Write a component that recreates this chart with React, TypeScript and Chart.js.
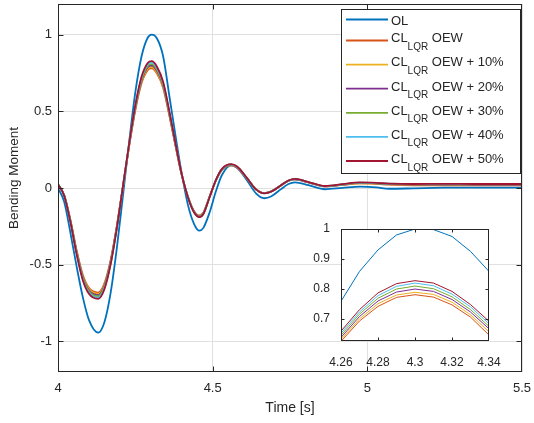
import React, { useEffect, useRef } from "react";
import { Chart, registerables } from "chart.js";

Chart.register(...registerables);

const FONT = '"Liberation Sans", Arial, Helvetica, sans-serif';
const AX = "#262626";
const GRID = "#e0e0e0";

// ---------- main plot data ----------
const TIME = [4.00, 4.02, 4.04, 4.06, 4.08, 4.10, 4.13, 4.15, 4.17, 4.19, 4.21, 4.23, 4.25, 4.27, 4.29, 4.303, 4.32, 4.34, 4.36, 4.38, 4.40, 4.42, 4.44, 4.457, 4.47, 4.49, 4.51, 4.53, 4.56, 4.58, 4.61, 4.64, 4.667, 4.69, 4.72, 4.745, 4.766, 4.81, 4.863, 4.92, 4.976, 5.03, 5.07, 5.15, 5.25, 5.35, 5.5];

const OL = [0.000, -0.09, -0.29, -0.51, -0.71, -0.86, -0.943, -0.875, -0.685, -0.395, -0.05, 0.30, 0.625, 0.858, 0.98, 1.0, 0.975, 0.858, 0.60, 0.34, 0.095, -0.11, -0.235, -0.278, -0.26, -0.16, -0.025, 0.085, 0.148, 0.130, 0.052, -0.035, -0.067, -0.054, -0.009, 0.026, 0.037, 0.018, -0.008, 0.001, 0.009, 0.004, -0.005, -0.002, 0.002, 0.003, 0.003];

const CL_OEW = [0.024, -0.047, -0.207, -0.405, -0.566, -0.651, -0.682, -0.622, -0.472, -0.250, 0.009, 0.273, 0.509, 0.684, 0.769, 0.780, 0.746, 0.652, 0.472, 0.273, 0.085, -0.057, -0.151, -0.179, -0.160, -0.057, 0.047, 0.118, 0.147, 0.131, 0.064, -0.008, -0.033, -0.022, 0.016, 0.046, 0.056, 0.036, 0.010, 0.020, 0.030, 0.027, 0.022, 0.018, 0.018, 0.017, 0.017];

const CL_OEW10 = [0.024, -0.048, -0.210, -0.410, -0.572, -0.658, -0.690, -0.630, -0.477, -0.253, 0.010, 0.277, 0.515, 0.692, 0.778, 0.789, 0.755, 0.659, 0.477, 0.277, 0.086, -0.057, -0.153, -0.181, -0.162, -0.057, 0.048, 0.119, 0.149, 0.133, 0.065, -0.008, -0.033, -0.022, 0.016, 0.047, 0.056, 0.037, 0.011, 0.021, 0.031, 0.029, 0.024, 0.020, 0.020, 0.019, 0.019];

const CL_OEW20 = [0.024, -0.048, -0.213, -0.415, -0.580, -0.667, -0.698, -0.638, -0.483, -0.256, 0.010, 0.280, 0.522, 0.700, 0.787, 0.799, 0.764, 0.668, 0.483, 0.280, 0.087, -0.058, -0.155, -0.184, -0.164, -0.058, 0.048, 0.121, 0.151, 0.134, 0.066, -0.009, -0.034, -0.022, 0.016, 0.047, 0.057, 0.037, 0.011, 0.022, 0.033, 0.030, 0.025, 0.022, 0.022, 0.021, 0.021];

const CL_OEW30 = [0.025, -0.049, -0.215, -0.420, -0.586, -0.674, -0.706, -0.645, -0.489, -0.259, 0.010, 0.283, 0.528, 0.708, 0.796, 0.808, 0.773, 0.675, 0.489, 0.283, 0.088, -0.059, -0.156, -0.186, -0.166, -0.059, 0.049, 0.122, 0.152, 0.136, 0.066, -0.009, -0.034, -0.022, 0.017, 0.048, 0.058, 0.038, 0.012, 0.023, 0.034, 0.031, 0.027, 0.024, 0.024, 0.023, 0.023];

const CL_OEW40 = [0.025, -0.049, -0.218, -0.425, -0.593, -0.682, -0.715, -0.653, -0.495, -0.262, 0.010, 0.287, 0.534, 0.717, 0.806, 0.818, 0.782, 0.683, 0.495, 0.287, 0.089, -0.059, -0.158, -0.188, -0.168, -0.059, 0.049, 0.124, 0.154, 0.137, 0.067, -0.009, -0.035, -0.023, 0.017, 0.048, 0.058, 0.038, 0.012, 0.024, 0.035, 0.032, 0.028, 0.025, 0.026, 0.025, 0.025];

const CL_OEW50 = [0.025, -0.05, -0.22, -0.43, -0.60, -0.69, -0.723, -0.66, -0.50, -0.265, 0.01, 0.29, 0.54, 0.725, 0.815, 0.827, 0.791, 0.691, 0.50, 0.29, 0.09, -0.06, -0.16, -0.19, -0.17, -0.06, 0.05, 0.125, 0.156, 0.139, 0.068, -0.009, -0.035, -0.023, 0.017, 0.049, 0.059, 0.039, 0.013, 0.025, 0.037, 0.034, 0.029, 0.026, 0.027, 0.026, 0.026];

// ---------- inset (zoom) data ----------
const INSET_TIME = [4.26, 4.27, 4.28, 4.29, 4.30, 4.31, 4.32, 4.33, 4.34];
const INSET_OL = [0.758, 0.858, 0.930, 0.980, 1.000, 0.998, 0.975, 0.925, 0.858];
const INSET_OEW = [0.624, 0.692, 0.741, 0.771, 0.780, 0.772, 0.746, 0.705, 0.645];
const INSET_OEW10 = [0.630, 0.699, 0.750, 0.779, 0.788, 0.781, 0.755, 0.713, 0.656];
const INSET_OEW20 = [0.637, 0.707, 0.759, 0.789, 0.799, 0.791, 0.764, 0.722, 0.666];
const INSET_OEW30 = [0.644, 0.715, 0.768, 0.799, 0.809, 0.800, 0.773, 0.730, 0.674];
const INSET_OEW40 = [0.651, 0.722, 0.777, 0.808, 0.819, 0.810, 0.782, 0.739, 0.683];
const INSET_OEW50 = [0.658, 0.730, 0.786, 0.817, 0.827, 0.819, 0.791, 0.747, 0.691];

// ---------- labels / ticks ----------
const SERIES_COLORS = ["#0072BD", "#D95319", "#EDB120", "#7E2F8E", "#77AC30", "#4DBEEE", "#A2142F"];
const LEGEND_MAIN = ["OL", "CL", "CL", "CL", "CL", "CL", "CL"];
const LEGEND_SUB = ["", "LQR", "LQR", "LQR", "LQR", "LQR", "LQR"];
const LEGEND_TAIL = ["", " OEW", " OEW + 10%", " OEW + 20%", " OEW + 30%", " OEW + 40%", " OEW + 50%"];

const X_TICKS = [4, 4.5, 5, 5.5];
const Y_TICKS = [-1, -0.5, 0, 0.5, 1];
const INSET_X_TICKS = [4.26, 4.28, 4.3, 4.32, 4.34];
const INSET_Y_TICKS = [0.7, 0.8, 0.9, 1];

const X_TITLE = "Time [s]";
const Y_TITLE = "Bending Moment";

const MAIN_SERIES = [OL, CL_OEW, CL_OEW10, CL_OEW20, CL_OEW30, CL_OEW40, CL_OEW50];
const INSET_SERIES = [INSET_OL, INSET_OEW, INSET_OEW10, INSET_OEW20, INSET_OEW30, INSET_OEW40, INSET_OEW50];

function boxPlugin(id: string, tickLen: number, xTicks: number[], yTicks: number[], whiteBg: boolean) {
  return {
    id,
    beforeDraw(chart: any) {
      if (!whiteBg) return;
      const { ctx, chartArea: a } = chart;
      ctx.save();
      ctx.fillStyle = "#ffffff";
      ctx.fillRect(a.left, a.top, a.right - a.left, a.bottom - a.top);
      ctx.restore();
    },
    afterDatasetsDraw(chart: any) {
      const { ctx, chartArea: a, scales } = chart;
      const L = Math.round(a.left) + 0.5;
      const R = Math.round(a.right) - 0.5;
      const T = Math.round(a.top) + 0.5;
      const B = Math.round(a.bottom) - 0.5;
      ctx.save();
      ctx.strokeStyle = AX;
      ctx.lineWidth = 1;
      ctx.beginPath();
      xTicks.forEach((v) => {
        const p = Math.round(scales.x.getPixelForValue(v)) + 0.5;
        if (p <= L + 1 || p >= R - 1) return;
        ctx.moveTo(p, B);
        ctx.lineTo(p, B - tickLen);
        ctx.moveTo(p, T);
        ctx.lineTo(p, T + tickLen);
      });
      yTicks.forEach((v) => {
        const p = Math.round(scales.y.getPixelForValue(v)) + 0.5;
        if (p <= T + 1 || p >= B - 1) return;
        ctx.moveTo(L, p);
        ctx.lineTo(L + tickLen, p);
        ctx.moveTo(R, p);
        ctx.lineTo(R - tickLen, p);
      });
      ctx.stroke();
      ctx.strokeRect(L, T, R - L, B - T);
      ctx.restore();
    },
  };
}

const legendPlugin = {
  id: "matlabLegend",
  afterDraw(chart: any) {
    const ctx = chart.ctx;
    ctx.save();
    ctx.fillStyle = "#ffffff";
    ctx.fillRect(341, 9, 180, 165);
    ctx.strokeStyle = AX;
    ctx.lineWidth = 1;
    ctx.strokeRect(341.5, 9.5, 179, 164);
    ctx.textAlign = "left";
    ctx.textBaseline = "alphabetic";
    LEGEND_MAIN.forEach((m, i) => {
      const y = i === 0 ? 19.5 : 40.5 + (i - 1) * 24.1;
      ctx.strokeStyle = SERIES_COLORS[i];
      ctx.lineWidth = 1.8;
      ctx.beginPath();
      ctx.moveTo(346, y);
      ctx.lineTo(388, y);
      ctx.stroke();
      ctx.fillStyle = AX;
      ctx.font = `13px ${FONT}`;
      const base = i === 0 ? y + 5 : y + 1.8;
      let x = 391;
      ctx.fillText(m, x, base);
      x += ctx.measureText(m).width;
      if (LEGEND_SUB[i]) {
        ctx.font = `10px ${FONT}`;
        ctx.fillText(LEGEND_SUB[i], x, y + 9.5);
        x += ctx.measureText(LEGEND_SUB[i]).width;
        ctx.font = `13px ${FONT}`;
        ctx.fillText(LEGEND_TAIL[i], x, base);
      }
    });
    // y-axis title
    ctx.fillStyle = AX;
    ctx.font = `13.5px ${FONT}`;
    ctx.translate(14, 178);
    ctx.rotate(-Math.PI / 2);
    ctx.textAlign = "center";
    ctx.textBaseline = "middle";
    ctx.fillText(Y_TITLE, 0, 0);
    ctx.restore();
  },
};

const fmt = (v: any) => String(Math.round(Number(v) * 1000) / 1000);
const noPad = (s: any) => {
  s.paddingLeft = 0;
  s.paddingRight = 0;
  s.paddingTop = 0;
  s.paddingBottom = 0;
};

export default function App() {
  const mainRef = useRef<HTMLCanvasElement>(null);
  const insetRef = useRef<HTMLCanvasElement>(null);

  useEffect(() => {
    const mainChart = new Chart(mainRef.current as HTMLCanvasElement, {
      type: "line",
      data: {
        datasets: MAIN_SERIES.map((vals, i) => ({
          label: LEGEND_MAIN[i] + LEGEND_SUB[i] + LEGEND_TAIL[i],
          data: TIME.map((t, k) => ({ x: t, y: vals[k] })),
          borderColor: SERIES_COLORS[i],
          backgroundColor: SERIES_COLORS[i],
          borderWidth: 1.8,
          pointRadius: 0,
          cubicInterpolationMode: "monotone",
          fill: false,
          order: 6 - i,
        })),
      },
      options: {
        animation: false,
        responsive: false,
        devicePixelRatio: 1,
        layout: { padding: { left: 0, right: 12, top: 4, bottom: 0 } },
        plugins: { legend: { display: false }, tooltip: { enabled: false } },
        scales: {
          x: {
            type: "linear",
            min: 4,
            max: 5.5,
            afterBuildTicks: (s: any) => {
              s.ticks = X_TICKS.map((v) => ({ value: v }));
            },
            afterFit: (s: any) => {
              s.height = 51;
              noPad(s);
            },
            grid: { color: GRID, drawTicks: false, lineWidth: 1 },
            border: { display: false },
            ticks: {
              autoSkip: false,
              maxRotation: 0,
              padding: 9,
              color: AX,
              font: { family: FONT, size: 13 },
              callback: (v: any) => fmt(v),
            },
            title: {
              display: true,
              text: X_TITLE,
              color: AX,
              font: { family: FONT, size: 14 },
              padding: { top: 0, bottom: 6 },
            },
          },
          y: {
            type: "linear",
            min: -1.2,
            max: 1.2,
            afterBuildTicks: (s: any) => {
              s.ticks = Y_TICKS.map((v) => ({ value: v }));
            },
            afterFit: (s: any) => {
              s.width = 58;
              noPad(s);
            },
            grid: { color: GRID, drawTicks: false, lineWidth: 1 },
            border: { display: false },
            ticks: {
              autoSkip: false,
              padding: 6,
              color: AX,
              font: { family: FONT, size: 13 },
              callback: (v: any) => fmt(v),
            },
          },
        },
      },
      plugins: [boxPlugin("mainBox", 5, X_TICKS, Y_TICKS, false), legendPlugin],
    } as any);

    const insetChart = new Chart(insetRef.current as HTMLCanvasElement, {
      type: "line",
      data: {
        datasets: INSET_SERIES.map((vals, i) => ({
          label: LEGEND_MAIN[i] + LEGEND_SUB[i] + LEGEND_TAIL[i],
          data: INSET_TIME.map((t, k) => ({ x: t, y: vals[k] })),
          borderColor: SERIES_COLORS[i],
          backgroundColor: SERIES_COLORS[i],
          borderWidth: 1,
          pointRadius: 0,
          tension: 0,
          fill: false,
          order: 6 - i,
        })),
      },
      options: {
        animation: false,
        responsive: false,
        devicePixelRatio: 1,
        layout: { padding: { left: 0, right: 16, top: 7, bottom: 0 } },
        plugins: { legend: { display: false }, tooltip: { enabled: false } },
        scales: {
          x: {
            type: "linear",
            min: 4.26,
            max: 4.34,
            afterBuildTicks: (s: any) => {
              s.ticks = INSET_X_TICKS.map((v) => ({ value: v }));
            },
            afterFit: (s: any) => {
              s.height = 29;
              noPad(s);
            },
            grid: { display: false },
            border: { display: false },
            ticks: {
              autoSkip: false,
              maxRotation: 0,
              padding: 6,
              color: AX,
              font: { family: FONT, size: 12 },
              callback: (v: any) => fmt(v),
            },
          },
          y: {
            type: "linear",
            min: 0.625,
            max: 1,
            afterBuildTicks: (s: any) => {
              s.ticks = INSET_Y_TICKS.map((v) => ({ value: v }));
            },
            afterFit: (s: any) => {
              s.width = 46;
              noPad(s);
            },
            grid: { display: false },
            border: { display: false },
            ticks: {
              autoSkip: false,
              padding: 3,
              color: AX,
              font: { family: FONT, size: 12 },
              callback: (v: any) => fmt(v),
            },
          },
        },
      },
      plugins: [boxPlugin("insetBox", 3, INSET_X_TICKS, INSET_Y_TICKS, true)],
    } as any);

    return () => {
      mainChart.destroy();
      insetChart.destroy();
    };
  }, []);

  return (
    <div style={{ position: "fixed", left: 0, top: 0, width: 534, height: 423, background: "#ffffff" }}>
      <canvas
        ref={mainRef}
        width={534}
        height={423}
        style={{ position: "absolute", left: 0, top: 0, width: 534, height: 423 }}
      />
      <canvas
        ref={insetRef}
        width={210}
        height={148}
        style={{ position: "absolute", left: 295, top: 222, width: 210, height: 148 }}
      />
    </div>
  );
}
